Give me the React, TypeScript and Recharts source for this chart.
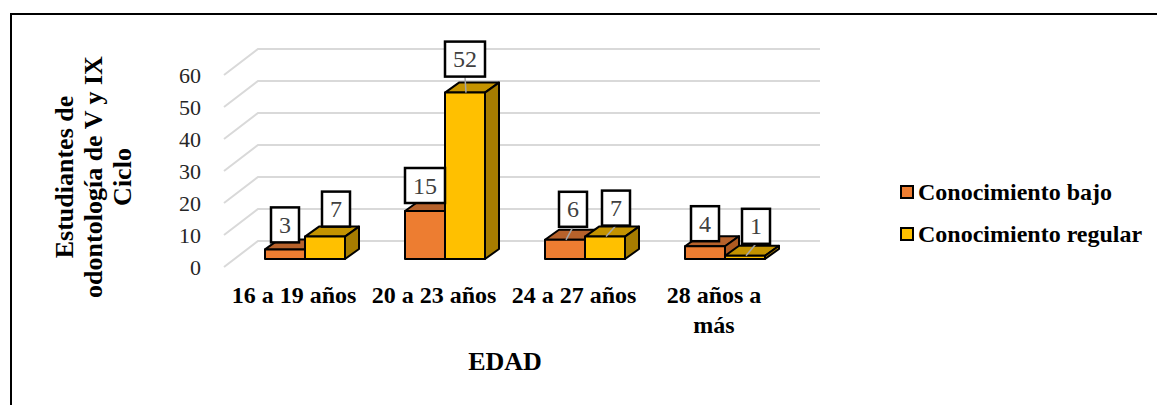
import { BarChart, Bar, XAxis, YAxis, CartesianGrid, Legend, LabelList, Label } from 'recharts';

const categories = ['16 a 19 años', '20 a 23 años', '24 a 27 años', '28 años a más'];
const bajo = [3, 15, 6, 4];
const regular = [7, 52, 7, 1];
const yTicks = [0, 10, 20, 30, 40, 50, 60];
const yTitleLines = ['Estudiantes de', 'odontología de V y IX', 'Ciclo'];

const SERIF = '"Liberation Serif", serif';

// 3D look: how far the back of a bar sits from its front face
const BAR_DX = 14;
const BAR_DY = 10;

// data label boxes relative to the top centre of the front face
const bajoLabelShift = [
  { dx: 0, dy: -7, leader: false },
  { dx: 0, dy: -8, leader: false },
  { dx: 8, dy: -13, leader: true },
  { dx: 0, dy: -5, leader: false },
];
const regularLabelShift = [
  { dx: 11, dy: -10, leader: false },
  { dx: 0, dy: -16, leader: true },
  { dx: 11, dy: -11, leader: true },
  { dx: 11, dy: -12, leader: true },
];

const chartData = categories.map((name, i) => ({ name, bajo: bajo[i], regular: regular[i] }));

function Bar3D({ x, y, width, height, fill, topFill, sideFill }: any) {
  const d = { stroke: '#000', strokeWidth: 2, strokeLinejoin: 'round' as const };
  const r = x + width;
  const b = y + height;
  return (
    <g>
      <polygon points={`${x},${y} ${x + BAR_DX},${y - BAR_DY} ${r + BAR_DX},${y - BAR_DY} ${r},${y}`} fill={topFill} {...d} />
      <polygon points={`${r},${y} ${r + BAR_DX},${y - BAR_DY} ${r + BAR_DX},${b - BAR_DY} ${r},${b}`} fill={sideFill} {...d} />
      <rect x={x} y={y} width={width} height={height} fill={fill} {...d} />
    </g>
  );
}

function makeValueBox(shifts: typeof bajoLabelShift) {
  return function ValueBox({ x, y, width, value, index }: any) {
    const s = shifts[index];
    const w = String(value).length > 1 ? 40 : 28;
    const h = 35;
    const cx = x + width / 2 + s.dx;
    const bottom = y + s.dy;
    return (
      <g>
        {s.leader && (
          <line x1={cx} y1={bottom} x2={x + width / 2 + 1} y2={y} stroke="#a6a6a6" strokeWidth={1.5} />
        )}
        <rect x={cx - w / 2} y={bottom - h} width={w} height={h} fill="#fff" stroke="#000" strokeWidth={2.5} />
        <text x={cx} y={bottom - h / 2 + 8} textAnchor="middle" fontFamily={SERIF} fontSize={24} fill="#404040">
          {value}
        </text>
      </g>
    );
  };
}

// floor and back wall lines, one per y tick
function WallLine({ x1, x2, y1 }: any) {
  return (
    <polyline
      points={`${x1 - 11},${y1 + 8} ${x1 + 23},${y1 - 18} ${x2 + 25},${y1 - 18}`}
      stroke="#d9d9d9"
      strokeWidth={2}
      fill="none"
    />
  );
}

function YTick({ x, y, payload }: any) {
  return (
    <text x={x - 26} y={y + 16} textAnchor="end" fontFamily={SERIF} fontSize={22} fill="#262626">
      {payload.value}
    </text>
  );
}

function XTick({ x, y, payload }: any) {
  const words = payload.value === '28 años a más' ? ['28 años a', 'más'] : [payload.value];
  return (
    <text x={x - 11} y={y + 36} textAnchor="middle" fontFamily={SERIF} fontSize={24} fontWeight="bold" fill="#000">
      {words.map((w: string, i: number) => (
        <tspan key={w} x={x - 11} dy={i === 0 ? 0 : 30}>
          {w}
        </tspan>
      ))}
    </text>
  );
}

function YTitle() {
  return (
    <g transform="translate(94,177) rotate(-90)">
      {yTitleLines.map((line, i) => (
        <text key={line} x={0} y={(i - 1) * 29 + 8} textAnchor="middle" fontFamily={SERIF} fontSize={26} fontWeight="bold" fill="#000">
          {line}
        </text>
      ))}
    </g>
  );
}

function LegendBox({ payload }: any) {
  return (
    <div>
      {payload.map((entry: any) => (
        <div key={entry.value} style={{ display: 'flex', alignItems: 'center', height: 42, fontFamily: SERIF, fontSize: 24, fontWeight: 'bold', color: '#000', whiteSpace: 'nowrap' }}>
          <span style={{ width: 14, height: 14, background: entry.color, border: '2px solid #000', marginRight: 4, boxSizing: 'border-box' }} />
          {entry.value}
        </div>
      ))}
    </div>
  );
}

export default function App() {
  return (
    <div style={{ position: 'absolute', left: 0, top: 0, width: 1157, height: 405, background: '#fff', overflow: 'hidden' }}>
      <div style={{ position: 'absolute', left: 10, top: 13, width: 1147, height: 392, borderTop: '2px solid #000', borderLeft: '2px solid #000', boxSizing: 'border-box' }} />
      <BarChart
        width={1157}
        height={405}
        data={chartData}
        barSize={40}
        barGap={0}
        margin={{ top: 67, right: 112, bottom: 0, left: 205 }}
        style={{ position: 'absolute', left: 0, top: 0 }}
      >
        <CartesianGrid vertical={false} horizontal={(p: any) => <WallLine key={p.y1} {...p} />} />
        <XAxis dataKey="name" interval={0} axisLine={false} tickLine={false} tick={<XTick />} height={146}>
          <Label content={() => <text x={505} y={370} textAnchor="middle" fontFamily={SERIF} fontSize={26} fontWeight="bold" fill="#000">EDAD</text>} />
        </XAxis>
        <YAxis domain={[0, 60]} ticks={yTicks} axisLine={false} tickLine={false} tick={<YTick />} width={30}>
          <Label content={() => <YTitle />} />
        </YAxis>
        <Legend layout="vertical" align="right" verticalAlign="top" content={<LegendBox />} wrapperStyle={{ position: 'absolute', left: 900, top: 171, width: 250 }} />
        <Bar dataKey="bajo" name="Conocimiento bajo" fill="#ED7D31" isAnimationActive={false} shape={<Bar3D topFill="#B7622B" sideFill="#AE5A21" />}>
          <LabelList dataKey="bajo" content={makeValueBox(bajoLabelShift)} />
        </Bar>
        <Bar dataKey="regular" name="Conocimiento regular" fill="#FFC000" isAnimationActive={false} shape={<Bar3D topFill="#C49300" sideFill="#A67C00" />}>
          <LabelList dataKey="regular" content={makeValueBox(regularLabelShift)} />
        </Bar>
      </BarChart>
    </div>
  );
}
